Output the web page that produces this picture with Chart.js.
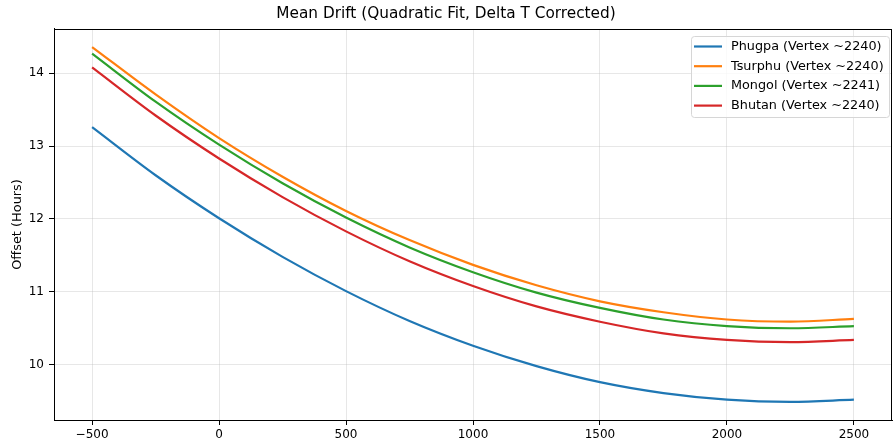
<!DOCTYPE html>
<html>
<head>
<meta charset="utf-8">
<script src="https://cdn.jsdelivr.net/npm/chart.js@4.4.0/dist/chart.umd.min.js"></script>
<style>
  html, body { margin: 0; padding: 0; background: #fff; }
  #wrap { width: 893px; height: 447px; }
</style>
</head>
<body>
<div id="wrap"><canvas id="drift"></canvas></div>
<script>
// Data
const years = [-500, -250, 0, 250, 500, 750, 1000, 1250, 1500, 1750, 2000, 2250, 2500];
const phugpa  = [13.26, 12.60, 12.01, 11.48, 11.01, 10.60, 10.26, 9.98, 9.76, 9.61, 9.52, 9.49, 9.52];
const tsurphu = [14.36, 13.71, 13.11, 12.58, 12.11, 11.71, 11.37, 11.09, 10.87, 10.72, 10.62, 10.59, 10.63];
const mongol  = [14.27, 13.61, 13.02, 12.49, 12.02, 11.61, 11.27, 10.99, 10.78, 10.62, 10.53, 10.50, 10.53];
const bhutan  = [14.08, 13.42, 12.83, 12.30, 11.83, 11.42, 11.08, 10.80, 10.59, 10.43, 10.34, 10.31, 10.34];
const seriesNames = ['Phugpa (Vertex ~2240)', 'Tsurphu (Vertex ~2240)', 'Mongol (Vertex ~2241)', 'Bhutan (Vertex ~2240)'];
const seriesColors = ['#1f77b4', '#ff7f0e', '#2ca02c', '#d62728'];
const xTicks = [-500, 0, 500, 1000, 1500, 2000, 2500];
const yTicks = [10, 11, 12, 13, 14];

const FONT = 'DejaVu Sans';
const toPoints = vals => years.map((x, i) => ({ x: x, y: vals[i] }));
const minus = v => String(v).replace('-', '\u2212');

const datasets = [phugpa, tsurphu, mongol, bhutan].map((vals, i) => ({
  label: seriesNames[i],
  data: toPoints(vals),
  borderColor: seriesColors[i],
  backgroundColor: seriesColors[i],
  borderWidth: 2.2,
  pointRadius: 0,
  cubicInterpolationMode: 'monotone',
  fill: false
}));

// box around the plot plus matplotlib style legend
const framePlugin = {
  id: 'frame',
  afterDraw(chart) {
    const { ctx, chartArea: a } = chart;
    ctx.save();
    ctx.strokeStyle = '#000';
    ctx.lineWidth = 1;
    ctx.strokeRect(Math.round(a.left) + 0.5, Math.round(a.top) + 0.5,
      Math.round(a.right - a.left) - 1, Math.round(a.bottom - a.top));

    // legend
    const bx = 691, by = 36, bw = 198, bh = 81;
    ctx.beginPath();
    ctx.roundRect(bx + 0.5, by + 0.5, bw, bh, 3);
    ctx.fillStyle = 'rgba(255,255,255,0.8)';
    ctx.fill();
    ctx.strokeStyle = '#d6d6d6';
    ctx.stroke();
    ctx.font = '12.8px "' + FONT + '"';
    ctx.textBaseline = 'middle';
    chart.data.datasets.forEach((ds, i) => {
      const y = 46.5 + i * 19.7;
      ctx.beginPath();
      ctx.moveTo(694, y);
      ctx.lineTo(722, y);
      ctx.strokeStyle = ds.borderColor;
      ctx.lineWidth = 2.2;
      ctx.stroke();
      ctx.fillStyle = '#000';
      ctx.fillText(ds.label, 731, y);
    });
    ctx.restore();
  }
};

new Chart(document.getElementById('drift').getContext('2d'), {
  type: 'line',
  data: { datasets: datasets },
  options: {
    responsive: true,
    maintainAspectRatio: false,
    animation: false,
    layout: { padding: { top: 0, right: 1, bottom: 0, left: 0 } },
    plugins: {
      legend: { display: false },
      tooltip: { enabled: false },
      title: {
        display: true,
        text: 'Mean Drift (Quadratic Fit, Delta T Corrected)',
        color: '#000',
        font: { family: FONT, size: 15.3, weight: 'normal' },
        padding: { top: 5, bottom: 5.6 }
      }
    },
    scales: {
      x: {
        type: 'linear',
        min: -650,
        max: 2650,
        afterBuildTicks: scale => { scale.ticks = xTicks.map(v => ({ value: v })); },
        afterFit: scale => { scale.height = 27; },
        ticks: {
          color: '#000',
          padding: 3,
          maxRotation: 0,
          font: { family: FONT, size: 12 },
          callback: v => minus(v)
        },
        grid: { color: 'rgba(176,176,176,0.3)', tickColor: '#000', tickLength: 5 },
        border: { display: true, color: '#000', width: 1 }
      },
      y: {
        type: 'linear',
        min: 9.241,
        max: 14.608,
        afterBuildTicks: scale => { scale.ticks = yTicks.map(v => ({ value: v })); },
        afterFit: scale => { scale.width = 54; },
        ticks: {
          color: '#000',
          padding: 5,
          font: { family: FONT, size: 12 },
          callback: v => minus(v)
        },
        grid: { color: 'rgba(176,176,176,0.3)', tickColor: '#000', tickLength: 5 },
        border: { display: true, color: '#000', width: 1 },
        title: {
          display: true,
          text: 'Offset (Hours)',
          color: '#000',
          font: { family: FONT, size: 12.9 },
          padding: { top: 10, bottom: 0 }
        }
      }
    }
  },
  plugins: [framePlugin]
});
</script>
</body>
</html>
